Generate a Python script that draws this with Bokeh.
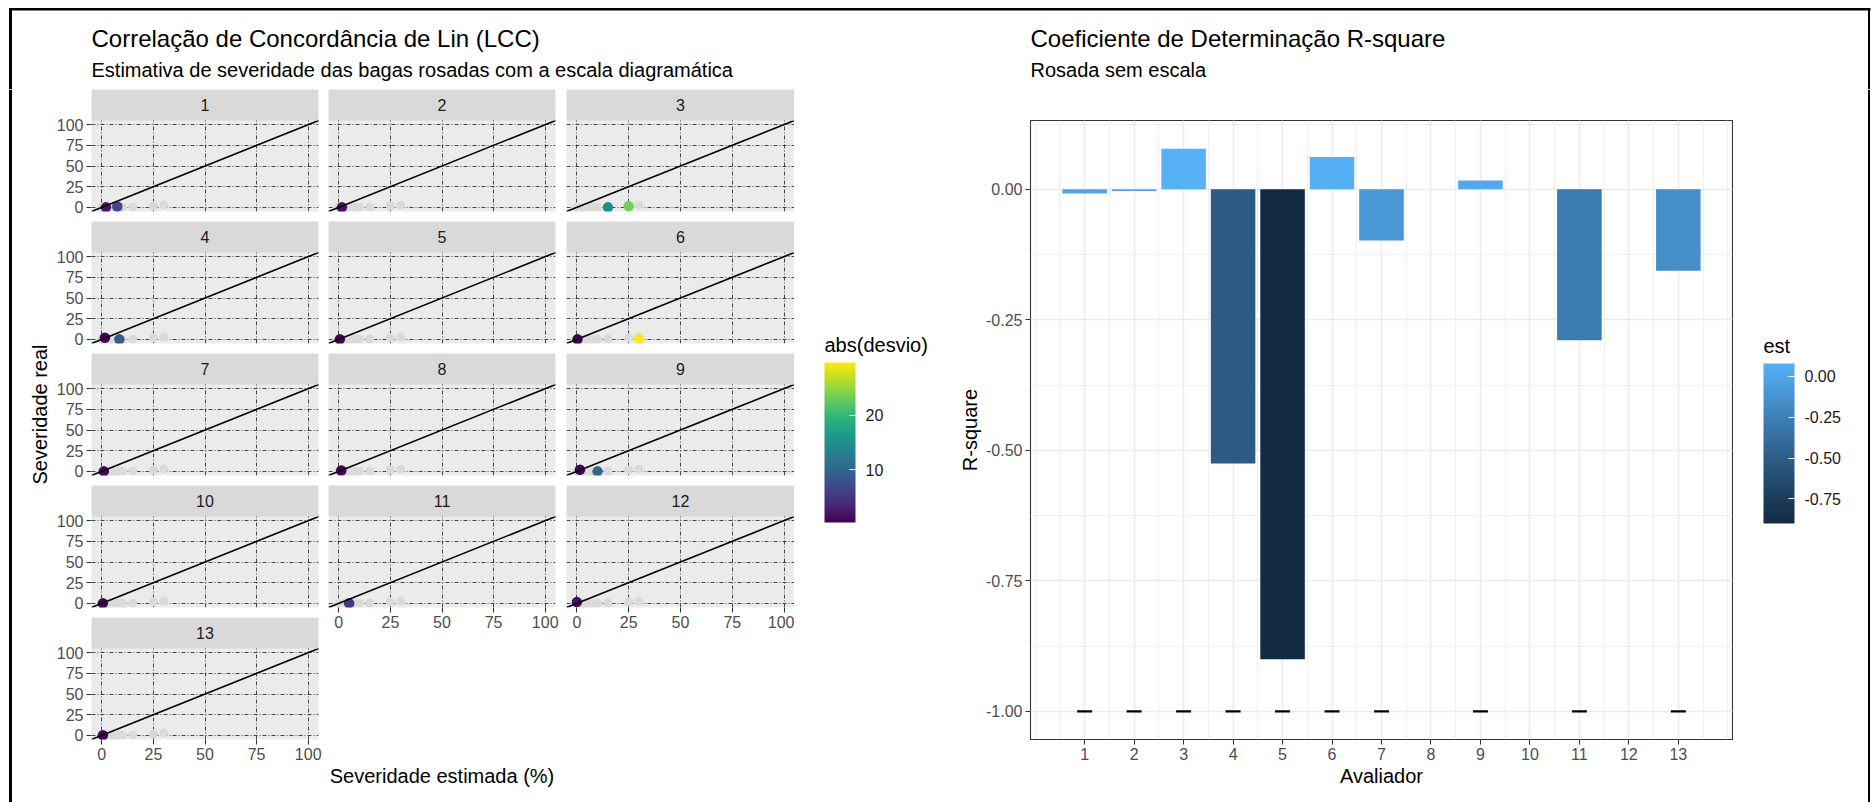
import math
from bokeh.plotting import figure
from bokeh.layouts import row, column
from bokeh.models import (ColumnDataSource, Range1d, FixedTicker, PrintfTickFormatter,
                          BasicTickFormatter, LinearColorMapper, ColorBar, BoxAnnotation,
                          Label, Slope)
from bokeh.palettes import Viridis256
from bokeh.transform import linear_cmap
from bokeh.embed import file_html
from bokeh.resources import INLINE

FONT = "Liberation Sans"

# ---------------- texts ----------------
left_title = "Correlação de Concordância de Lin (LCC)"
left_subtitle = "Estimativa de severidade das bagas rosadas com a escala diagramática"
right_title = "Coeficiente de Determinação R-square"
right_subtitle = "Rosada sem escala"
facet_x_label = "Severidade estimada (%)"
facet_y_label = "Severidade real"
bar_x_label = "Avaliador"
bar_y_label = "R-square"
desvio_legend_title = "abs(desvio)"
est_legend_title = "est"

# ---------------- facet data ----------------
panels = list(range(1, 14))
facet_ticks = [0, 25, 50, 75, 100]
facet_limits = [0, 100]

# grey reference points (shown in every panel)
gray_est = [0, 3, 5, 8, 10, 15, 25, 30]
gray_real = [0, 0, 0, 0, 0, 0.5, 2, 3]

# coloured points of each rater (avaliador)
pt_rater = [1, 1, 2, 3, 3, 4, 4, 5, 6, 6, 7, 8, 9, 9, 10, 11, 12, 13]
pt_est = [2, 7.5, 1.5, 15, 25, 1.5, 8.5, 0.5, 0.3, 30, 1, 1.2, 1.5, 10, 0.5, 5, 0, 0.5]
pt_real = [0, 1, 0, 0, 1.5, 2, 0, 0, 0, 0.2, 0, 1, 2, 0, 0, 0, 1.5, 0]
pt_absdesvio = [2, 6.5, 1.5, 15, 23.5, 0.5, 8.5, 0.5, 0.3, 29.8, 1, 0.2, 0.5, 10, 0.5, 5, 1.5, 0.5]
desvio_ticks = [10, 20]

# ---------------- bar data ----------------
nan = float("nan")
avaliador = list(range(1, 14))
r2_est = [-0.008, -0.003, 0.078, -0.525, -0.900, 0.062, -0.098, nan, 0.017, nan, -0.289, nan, -0.156]
r2_ref = [-1, -1, -1, -1, -1, -1, -1, nan, -1, nan, -1, nan, -1]
bar_y_ticks = [-1.0, -0.75, -0.5, -0.25, 0.0]
est_ticks = [-0.75, -0.5, -0.25, 0.0]

# ---------------- layout constants ----------------
W, H = 1873, 802
HEADER_H = 89
BODY_H = H - HEADER_H
STRIP_PX, PANEL_PX, ROW_GAP = 31, 91, 10
COL_FRAME_W = [227, 227, 228]
COL_LEFT = [41, 0, 0]
COL_RIGHT = [10, 11, 0]

# ggplot default continuous gradient (#132B43 -> #56B1F7) interpolated in Lab
WHITE = (0.95047, 1.0, 1.08883)


def _lin(c):
    return c / 12.92 if c <= 0.04045 else ((c + 0.055) / 1.055) ** 2.4


def _delin(c):
    return 12.92 * c if c <= 0.0031308 else 1.055 * c ** (1 / 2.4) - 0.055


def hex2lab(h):
    r, g, b = [_lin(int(h[i:i + 2], 16) / 255) for i in (1, 3, 5)]
    X = 0.4124564 * r + 0.3575761 * g + 0.1804375 * b
    Y = 0.2126729 * r + 0.7151522 * g + 0.0721750 * b
    Z = 0.0193339 * r + 0.1191920 * g + 0.9503041 * b
    d = 6 / 29
    f = lambda t: t ** (1 / 3) if t > d ** 3 else t / (3 * d * d) + 4 / 29
    fx, fy, fz = f(X / WHITE[0]), f(Y / WHITE[1]), f(Z / WHITE[2])
    return (116 * fy - 16, 500 * (fx - fy), 200 * (fy - fz))


def lab2hex(L, a, b):
    d = 6 / 29
    finv = lambda t: t ** 3 if t > d else 3 * d * d * (t - 4 / 29)
    fy = (L + 16) / 116
    fx = fy + a / 500
    fz = fy - b / 200
    X, Y, Z = WHITE[0] * finv(fx), WHITE[1] * finv(fy), WHITE[2] * finv(fz)
    r = 3.2404542 * X - 1.5371385 * Y - 0.4985314 * Z
    g = -0.9692660 * X + 1.8760108 * Y + 0.0415560 * Z
    bb = 0.0556434 * X - 0.2040259 * Y + 1.0572252 * Z
    out = [int(round(_delin(min(1, max(0, c))) * 255)) for c in (r, g, bb)]
    return "#%02x%02x%02x" % tuple(out)


lab_lo, lab_hi = hex2lab("#132B43"), hex2lab("#56B1F7")
est_palette = [lab2hex(*[lab_lo[i] + (lab_hi[i] - lab_lo[i]) * t / 255 for i in range(3)])
               for t in range(256)]


def base_fig(fw, fh, left=0, right=0, top=0, bottom=0, xr=None, yr=None, axes=True):
    kw = dict(frame_width=fw, frame_height=fh, min_border_left=left, min_border_right=right,
              min_border_top=top, min_border_bottom=bottom, output_backend="svg",
              toolbar_location=None, title=None)
    if xr is not None:
        kw["x_range"] = xr
    if yr is not None:
        kw["y_range"] = yr
    if not axes:
        kw.update(x_axis_location=None, y_axis_location=None)
    p = figure(**kw)
    p.border_fill_color = "white"
    p.background_fill_color = "white"
    p.outline_line_color = None
    if not axes:
        p.xgrid.grid_line_color = None
        p.ygrid.grid_line_color = None
    return p


def style_axis(ax):
    ax.axis_line_color = None
    ax.major_tick_line_color = "#333333"
    ax.major_tick_line_width = 1.1
    ax.major_tick_in = 0
    ax.major_tick_out = 5
    ax.minor_tick_line_color = None
    ax.minor_tick_in = 0
    ax.minor_tick_out = 0
    ax.major_label_text_font = FONT
    ax.major_label_text_font_size = "16px"
    ax.major_label_text_color = "#4D4D4D"
    ax.major_label_standoff = 3
    ax.axis_label_text_font = FONT
    ax.axis_label_text_font_size = "20px"
    ax.axis_label_text_font_style = "normal"
    ax.axis_label_text_color = "black"


def txt(p, x, y, text, size, color="black", **kw):
    p.add_layout(Label(x=x, y=y, text=text, text_font=FONT, text_font_size=size,
                       text_color=color, **kw))


def black_box(p, **kw):
    p.add_layout(BoxAnnotation(fill_color="black", fill_alpha=1, line_color=None, **kw))


# ---------------- header (titles + document frame) ----------------
header = base_fig(W, HEADER_H, xr=Range1d(0, W), yr=Range1d(0, HEADER_H), axes=False)
black_box(header, left=8.5, right=1870, top=HEADER_H - 7.5, bottom=HEADER_H - 10)
black_box(header, left=8.5, right=11.5, top=HEADER_H - 8)
black_box(header, left=1867.5, right=1869.5, top=HEADER_H - 8)
TITLE_MID, SUB_MID = 38, 69   # text centres, px from top
txt(header, 91, HEADER_H - TITLE_MID, left_title, "24px", text_align="left", text_baseline="middle")
txt(header, 91, HEADER_H - SUB_MID, left_subtitle, "20px", text_align="left", text_baseline="middle")
txt(header, 1030, HEADER_H - TITLE_MID, right_title, "24px", text_align="left", text_baseline="middle")
txt(header, 1030, HEADER_H - SUB_MID, right_subtitle, "20px", text_align="left", text_baseline="middle")

# left band: document frame + shared y title of the facets
LB_W = 50
leftband = base_fig(LB_W, BODY_H, xr=Range1d(0, LB_W), yr=Range1d(0, BODY_H), axes=False)
black_box(leftband, left=8.5, right=11.5)
facet_mid = (STRIP_PX + 5 * (STRIP_PX + PANEL_PX + ROW_GAP) - ROW_GAP) / 2  # from body top
txt(leftband, 39, BODY_H - facet_mid + STRIP_PX / 2, facet_y_label, "20px",
    angle=math.pi / 2, text_align="center", text_baseline="middle")

rightband = base_fig(7, BODY_H, xr=Range1d(1866, 1873), yr=Range1d(0, BODY_H), axes=False)
black_box(rightband, left=1867.5, right=1869.5)

# ---------------- facets ----------------
exp = 0.05 * (facet_limits[1] - facet_limits[0])
f_lo, f_hi = facet_limits[0] - exp, facet_limits[1] + exp
strip_h = (f_hi - f_lo) * STRIP_PX / PANEL_PX

d_low, d_high = min(pt_absdesvio), max(pt_absdesvio)
desvio_mapper = LinearColorMapper(palette=Viridis256, low=d_low, high=d_high)

columns = [[], [], []]
n = len(panels)
for idx, k in enumerate(panels):
    r, c = divmod(idx, 3)
    last = idx + 3 >= n
    n_in_col = len(range(c, n, 3))
    if last:
        bottom = BODY_H - (n_in_col - 1) * (STRIP_PX + PANEL_PX + ROW_GAP) - (STRIP_PX + PANEL_PX)
    else:
        bottom = ROW_GAP
    p = base_fig(COL_FRAME_W[c], STRIP_PX + PANEL_PX, left=COL_LEFT[c], right=COL_RIGHT[c],
                 top=0, bottom=bottom, xr=Range1d(f_lo, f_hi), yr=Range1d(f_lo, f_hi + strip_h))
    p.background_fill_color = "#EBEBEB"
    for ax in p.xaxis + p.yaxis:
        style_axis(ax)
        ax.ticker = FixedTicker(ticks=facet_ticks)
    p.xgrid.ticker = FixedTicker(ticks=facet_ticks)
    p.ygrid.ticker = FixedTicker(ticks=facet_ticks)
    p.grid.grid_line_color = "#333333"
    p.grid.grid_line_width = 0.9
    p.grid.grid_line_dash = "4 2 1 2"
    p.grid.minor_grid_line_color = None
    p.xaxis.visible = last
    p.yaxis.visible = (c == 0)
    if last and c == 1:
        p.xaxis.axis_label = facet_x_label
        p.xaxis.axis_label_standoff = 134

    p.scatter(gray_est, gray_real, size=9, fill_color="#DADADA", line_color=None)
    sel = [i for i, rr in enumerate(pt_rater) if rr == k]
    src = ColumnDataSource(dict(est=[pt_est[i] for i in sel], real=[pt_real[i] for i in sel],
                                absdesvio=[pt_absdesvio[i] for i in sel]))
    p.scatter("est", "real", source=src, size=10.5, line_color=None,
              fill_color=linear_cmap("absdesvio", Viridis256, d_low, d_high))
    p.add_layout(Slope(gradient=1, y_intercept=0, line_color="black", line_width=1.6))
    p.add_layout(BoxAnnotation(bottom=f_hi, fill_color="#D9D9D9", fill_alpha=1, line_color=None))
    p.add_layout(Label(x=(f_lo + f_hi) / 2, y=f_hi + strip_h / 2, text=str(k), text_font=FONT,
                       text_font_size="16px", text_color="#1A1A1A", text_align="center",
                       text_baseline="middle"))
    columns[c].append(p)


# ---------------- legends ----------------
CB_MARGIN = 30


def legend_fig(width, top, mapper, ticks, formatter, title):
    fw, fh = width, BODY_H - top
    p = base_fig(fw, fh, top=top, xr=Range1d(0, fw), yr=Range1d(0, fh), axes=False)
    cb = ColorBar(color_mapper=mapper, location="top_left", orientation="vertical",
                  width=31, height=160, padding=0, margin=CB_MARGIN, title=None,
                  ticker=FixedTicker(ticks=ticks), formatter=formatter,
                  major_label_text_font=FONT, major_label_text_font_size="16px",
                  major_label_text_color="#1A1A1A", label_standoff=10,
                  major_tick_line_color="white", major_tick_in=6, major_tick_out=0,
                  minor_tick_line_color=None, bar_line_color=None, border_line_color=None)
    p.add_layout(cb, "center")
    # title centre 18 px above the bar
    txt(p, CB_MARGIN, fh - CB_MARGIN + 18, title, "20px", text_align="left", text_baseline="middle")
    return p


legend_left = legend_fig(136, 243, desvio_mapper, desvio_ticks, BasicTickFormatter(),
                         desvio_legend_title)

valid = [i for i, v in enumerate(r2_est) if not math.isnan(v)]
e_low = min(r2_est[i] for i in valid)
e_high = max(r2_est[i] for i in valid)
est_mapper = LinearColorMapper(palette=est_palette, low=e_low, high=e_high)
legend_right = legend_fig(133, 244, est_mapper, est_ticks, PrintfTickFormatter(format="%.2f"),
                          est_legend_title)

# ---------------- bar chart ----------------
bar_w = 0.9
x_lo, x_hi = min(avaliador) - bar_w / 2, max(avaliador) + bar_w / 2
x_pad = 0.05 * (x_hi - x_lo)
ref_valid = [i for i, v in enumerate(r2_ref) if not math.isnan(v)]
y_lo = min(min(r2_est[i] for i in valid), min(r2_ref[i] for i in ref_valid), 0)
y_hi = max(max(r2_est[i] for i in valid), 0)
y_pad = 0.05 * (y_hi - y_lo)

rp = base_fig(702, 619, left=100, right=1, top=31, bottom=63,
              xr=Range1d(x_lo - x_pad, x_hi + x_pad), yr=Range1d(y_lo - y_pad, y_hi + y_pad))
rp.outline_line_color = "#333333"
rp.outline_line_width = 1.1
for ax in rp.xaxis + rp.yaxis:
    style_axis(ax)
rp.xaxis.ticker = FixedTicker(ticks=avaliador, minor_ticks=[i * 0.5 for i in range(0, 29)])
rp.yaxis.ticker = FixedTicker(ticks=bar_y_ticks,
                              minor_ticks=[-1.125 + 0.125 * i for i in range(0, 11)])
rp.yaxis.formatter = PrintfTickFormatter(format="%.2f")
rp.xaxis.axis_label = bar_x_label
rp.yaxis.axis_label = bar_y_label
rp.xaxis.axis_label_standoff = 2
rp.yaxis.axis_label_standoff = 2
rp.grid.grid_line_color = "#EBEBEB"
rp.grid.grid_line_width = 1.5
rp.grid.minor_grid_line_color = "#EFEFEF"
rp.grid.minor_grid_line_width = 1

bar_src = ColumnDataSource(dict(x=[avaliador[i] for i in valid], est=[r2_est[i] for i in valid]))
rp.vbar(x="x", top="est", bottom=0, width=bar_w, source=bar_src, line_color=None,
        fill_color=linear_cmap("est", est_palette, e_low, e_high))
ref_src = ColumnDataSource(dict(x=[avaliador[i] for i in ref_valid], y=[r2_ref[i] for i in ref_valid]))
rp.scatter("x", "y", source=ref_src, marker="dash", size=15, line_color="black", line_width=2.4)

# ---------------- assemble ----------------
body = row(column(leftband),
           column(*columns[0], spacing=0),
           column(*columns[1], spacing=0),
           column(*columns[2], spacing=0),
           column(legend_left), column(rp), column(legend_right), column(rightband),
           spacing=0)
layout = column(header, body, spacing=0)

open("out.html", "w").write(file_html(layout, INLINE))
